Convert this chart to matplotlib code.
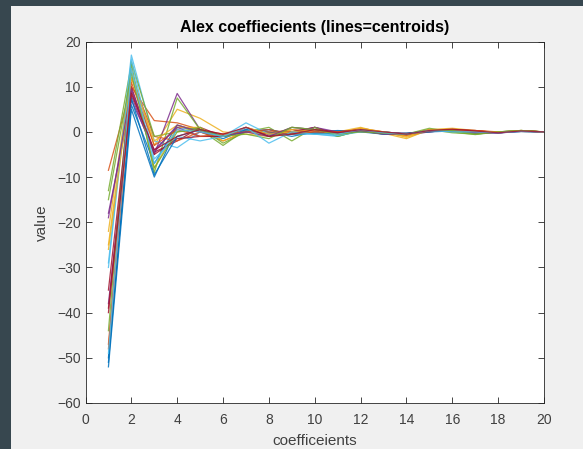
import numpy as np
import matplotlib.pyplot as plt
from matplotlib.patches import Rectangle

plt.rcParams['font.family'] = ['Liberation Sans', 'DejaVu Sans']

# coefficient index
x = np.arange(1, 21)

# one row per centroid
centroids = [
    [-52, 5, -10, 1, 0.5, -1, 0.5, -0.5, 0, -0.3, 0.2, 0.3, -0.2, -0.5, 0.2, 0.3, -0.2, 0, 0.2, 0],
    [-8.5, 10, 2.5, 2, 0.5, -0.5, 0.3, -0.2, 0.5, 0.2, -0.3, 0.8, 0, -0.5, 0.3, 0.5, 0.2, -0.1, 0.1, 0],
    [-25, 13.5, -3, 5, 3, 0, -0.5, -1, 0.5, -0.5, 0, 1, -0.3, -1.5, 0.5, 0.8, 0.3, -0.2, 0.3, 0],
    [-38, 8, -5, 8.5, 0.5, -1, 0.5, -0.5, 0, 1, -0.5, 0.2, -0.3, -0.7, 0, 0.5, -0.3, -0.2, 0.2, 0],
    [-13, 15, -9, 7.5, 0.5, -3, 0.5, -1, 1, 0.5, -1, 0.3, 0, -0.5, 0.5, -0.2, -0.5, 0, 0.3, 0],
    [-29, 17, -2, -3.5, 0, -1, 0.5, -1, 0, -0.5, -1, 0.5, -0.2, -0.3, 0.2, 0.3, 0, -0.1, 0.1, 0],
    [-39, 9, -4.5, -2, 1, -1, 1, -0.5, 0, 1, -0.5, 0.3, 0, -0.5, 0.3, 0.5, 0.2, -0.2, 0.2, 0],
    [-50, 6, -7, 1.5, 0, -1.5, 0.5, 0, -1, 0, 0.3, 0, -0.5, -0.5, 0.2, 0.3, -0.3, 0, 0.2, 0],
    [-47, 12, -1, -2, 0, -2, 0, 0, 0, 0, -0.2, 0.5, -0.3, -0.8, 0.5, 0.3, 0.3, -0.1, 0.3, 0],
    [-22, 14, -8, 1, 1, -2, 0, -1, -0.5, 0.5, -0.5, 0.8, 0, -1.2, 0.3, 0.6, -0.2, 0, 0.1, 0],
    [-18, 7, -4, 1, -1, -1, 0, 0.5, -0.5, 1, 0, 0, -0.2, -0.4, 0.3, 0.2, 0, -0.3, 0.2, 0],
    [-44, 15.5, -1, 0, 1, -2.5, 0, 1, -2, 1, -1, 0.3, -0.5, -0.5, 0.8, 0, -0.6, 0, 0.3, 0],
    [-30, 16, -6, -1, -2, -1, 2, -0.5, -0.5, -0.5, -0.8, 0, 0, -0.5, 0, 0.5, 0, -0.2, 0.1, 0],
    [-35, 10, -5, -1.5, -1, -1, 1, -1, 0, 0.5, 0, 0.5, -0.3, -0.3, 0, 0.5, 0.3, -0.2, 0.2, 0],
    [-51, 7.5, -9.5, -1, 0.5, -1, 0, 0.5, -0.5, -0.3, -0.3, 0.3, -0.5, -0.3, 0, 0.2, 0, -0.1, 0.1, 0],
    [-48, 11, -3, 0.5, -1, -0.5, 0, 0.5, -0.5, 0, 0, 0.5, -0.2, -0.8, 0.2, 0.5, 0.3, 0, 0.2, 0],
    [-26, 12, -2, 1.5, 0, -1, 1, -0.5, 0, 0.5, -0.5, 0.5, 0, -1, 0.5, 0.3, 0, 0, 0.2, 0],
    [-19, 9.5, -4.5, 1.5, 0, -1, 0, -1, 1, 0.5, -0.3, 0.2, -0.5, -0.5, 0.2, 0.3, -0.2, -0.2, 0.1, 0],
    [-15, 13, -8, 0, 0.5, -1, -0.5, -1.5, 1, 0.5, -0.5, 0, -0.3, -0.5, 0.3, 0.3, -0.5, 0, 0.3, 0],
    [-49, 14, -7, 0.5, 0, -1, 1, -2.5, 0, -0.5, -0.5, 0.5, -0.2, -0.5, 0.3, 0, 0, -0.2, 0.1, 0],
    [-40, 8.5, -4, -1, 0.5, -0.5, 1, -1, -0.5, 0.5, -0.2, 0.5, 0, -0.5, 0.3, 0.6, 0.2, -0.2, 0.2, 0],
]

# matlab default line colours
colours = ['#0072BD', '#D95319', '#EDB120', '#7E2F8E', '#77AC30', '#4DBEEE', '#A2142F']

fig = plt.figure(figsize=(5.83, 4.49), dpi=100, facecolor='#37474f')
# light grey window area, dark border only top and left
fig.add_artist(Rectangle((11 / 583, 0), 1, 1 - 6 / 449, transform=fig.transFigure,
                         facecolor='#f0f0f0', edgecolor='none', zorder=-5))

ax = fig.add_axes([85.5 / 583, 1 - 403 / 449, (544 - 85.5) / 583, (403 - 41.5) / 449])
for i, c in enumerate(centroids):
    ax.plot(x, c, color=colours[i % 7], lw=0.9, alpha=0.85)

ax.set_xlim(0, 20)
ax.set_ylim(-60, 20)
ax.set_xticks(range(0, 21, 2))
ax.set_yticks(range(-60, 21, 10))
ax.tick_params(direction='in', top=True, right=True, length=4, width=0.6,
               labelsize=10, labelcolor='#404040', color='#262626')
ax.tick_params(axis='x', pad=7)
for s in ax.spines.values():
    s.set_linewidth(0.6)
    s.set_color('#262626')

ax.set_title('Alex coeffiecients (lines=centroids)', fontsize=11.5, fontweight='bold', pad=7)
ax.set_xlabel('coefficeients', fontsize=11, color='#404040', labelpad=5)
ax.set_ylabel('value', fontsize=11, color='#404040', labelpad=6)

fig.savefig('out.png', dpi=100, facecolor=fig.get_facecolor())
